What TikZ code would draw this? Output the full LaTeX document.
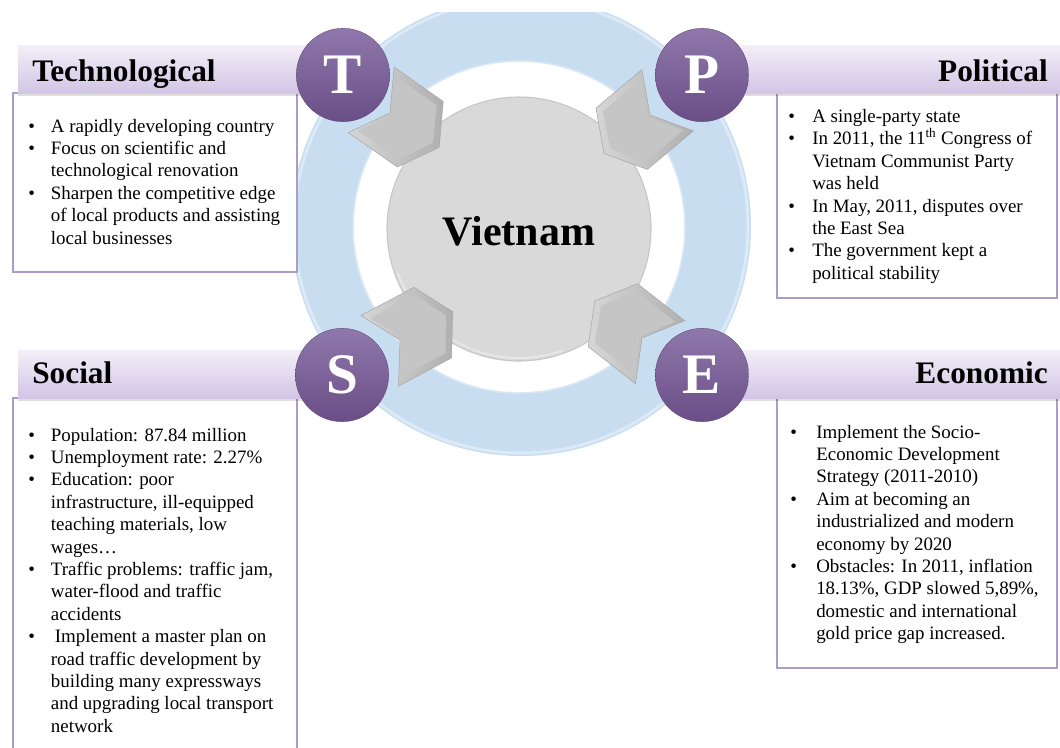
\documentclass[tikz,border=0pt]{standalone}
\usepackage{fontspec}
\setmainfont{Liberation Serif}
\definecolor{ringblue}{HTML}{C9DDF0}
\definecolor{ringlight}{HTML}{DCE9F6}
\definecolor{discgrey}{HTML}{D9D9D9}
\definecolor{discedge}{HTML}{C6C6C6}
\definecolor{purpletop}{HTML}{8F78AB}
\definecolor{purplebot}{HTML}{6A4E87}
\definecolor{bartop}{HTML}{F3EFF8}
\definecolor{barbot}{HTML}{D2C5E5}
\definecolor{boxline}{HTML}{AA9DC9}
\definecolor{chevlight}{HTML}{D6D6D6}
\definecolor{chevdark}{HTML}{B0B0B0}
\definecolor{chevface}{HTML}{C5C5C5}
\definecolor{chevedge}{HTML}{A8A8A8}
\newcommand\mychev[3]{%
  \begin{scope}[shift={(#1,#2)},rotate=#3]
    \shade[left color=chevlight,right color=chevdark,draw=chevedge,line width=0.4pt]
      (-23,40) -- (0,0) -- (-23,-40) -- (37,-40) -- (60,0) -- (37,40) -- cycle;
    \fill[chevface] (-16,33) -- (3,0) -- (-16,-33) -- (34,-33) -- (52,0) -- (34,33) -- cycle;
  \end{scope}}
\begin{document}
\begin{tikzpicture}[x=0.75pt,y=-0.75pt,
  hdr/.style={font=\bfseries\fontsize{23.5}{28}\selectfont,inner sep=0pt},
  bodytext/.style={font=\fontsize{14.2}{16.8}\selectfont,inner sep=0pt,align=left},
  letter/.style={circle,minimum size=70pt,inner sep=0pt,top color=purpletop,bottom color=purplebot,
    draw=purplebot!90!black,line width=0.3pt,text=white,font=\bfseries\fontsize{43}{48}\selectfont},
  bar/.style={top color=bartop,bottom color=barbot},
  barshadow/.style={fill=black,opacity=0.13},
  infobox/.style={draw=boxline,line width=0.8pt,fill=white}]
\useasboundingbox (0,0) rectangle (1060,747);
\fill[white] (0,0) rectangle (1060,747);
% ring
\begin{scope}
  \clip (0,12) rectangle (1060,747);
  \fill[ringblue] (521,226) circle[radius=230];
  \draw[ringlight,line width=2.2pt] (521,226) circle[radius=227];
\end{scope}
\fill[white] (519,227) circle[radius=166];
\draw[ringblue!70!white,line width=1.2pt] (519,227) circle[radius=166];
\fill[discgrey] (519,229) circle[radius=132];
\draw[discedge,line width=0.8pt] (519,229) circle[radius=132];
\draw[white,opacity=0.35,line width=1.5pt] (519,229) ++(160:129) arc[start angle=160,end angle=70,radius=129];
% boxes
\draw[infobox] (13,93) rectangle (297,272);
\draw[infobox] (777,93) rectangle (1057,298);
\draw[infobox] (13,398) rectangle (297,770);
\draw[infobox] (777,398) rectangle (1057,668);
% bars
\fill[barshadow] (18,48) rectangle (343,96);
\fill[barshadow] (702,48) rectangle (1060,96);
\fill[barshadow] (18,353) rectangle (343,401);
\fill[barshadow] (702,353) rectangle (1060,401);
\shade[bar] (18,45) rectangle (343,93);
\shade[bar] (702,45) rectangle (1060,93);
\shade[bar] (18,350) rectangle (343,398);
\shade[bar] (702,350) rectangle (1060,398);
% chevrons
\mychev{390}{113}{-35}
\mychev{650}{115}{-140}
\mychev{400}{340}{28}
\mychev{642}{338}{142}
% centre
\node[font=\bfseries\fontsize{31.5}{36}\selectfont,inner sep=0pt] (vn) at (519,231) {Vietnam};
% letters
\node[letter] (T) at (343,75) {T};
\node[letter] (P) at (702,75) {P};
\node[letter] (S) at (342,375) {S};
\node[letter] (E) at (702,375) {E};
% headers
\node[hdr,anchor=base west] (tech) at (32,81) {Technological};
\node[hdr,anchor=base east] (pol) at (1048,81) {Political};
\node[hdr,anchor=base west] (soc) at (32,383) {Social};
\node[hdr,anchor=base east] (eco) at (1048,383) {Economic};
% texts
\node[bodytext,anchor=base west] (techtxt) at (28,132) {\begin{tabular}[t]{@{}p{17pt}@{}l@{}}
\textbullet & A rapidly developing country\\
\textbullet & Focus on scientific and\\
 & technological renovation\\
\textbullet & Sharpen the competitive edge\\
 & of local products and assisting\\
 & local businesses
\end{tabular}};
\node[bodytext,anchor=base west] (poltxt) at (788,122) {\begin{tabular}[t]{@{}p{18pt}@{}l@{}}
\textbullet & A single-party state\\
\textbullet & In 2011, the 11\textsuperscript{th} Congress of\\
 & Vietnam Communist Party\\
 & was held\\
\textbullet & In May, 2011, disputes over\\
 & the East Sea\\
\textbullet & The government kept a\\
 & political stability
\end{tabular}};
\node[bodytext,anchor=base west] (soctxt) at (28,441) {\begin{tabular}[t]{@{}p{17pt}@{}l@{}}
\textbullet & Population: 87.84 million\\
\textbullet & Unemployment rate: 2.27\%\\
\textbullet & Education: poor\\
 & infrastructure, ill-equipped\\
 & teaching materials, low\\
 & wages…\\
\textbullet & Traffic problems: traffic jam,\\
 & water-flood and traffic\\
 & accidents\\
\textbullet & \hspace{3pt}Implement a master plan on\\
 & road traffic development by\\
 & building many expressways\\
 & and upgrading local transport\\
 & network
\end{tabular}};
\node[bodytext,anchor=base west] (ecotxt) at (790,438) {\begin{tabular}[t]{@{}p{19.5pt}@{}l@{}}
\textbullet & Implement the Socio-\\
 & Economic Development\\
 & Strategy (2011-2010)\\
\textbullet & Aim at becoming an\\
 & industrialized and modern\\
 & economy by 2020\\
\textbullet & Obstacles: In 2011, inflation\\
 & 18.13\%, GDP slowed 5,89\%,\\
 & domestic and international\\
 & gold price gap increased.
\end{tabular}};
\end{tikzpicture}
\end{document}
